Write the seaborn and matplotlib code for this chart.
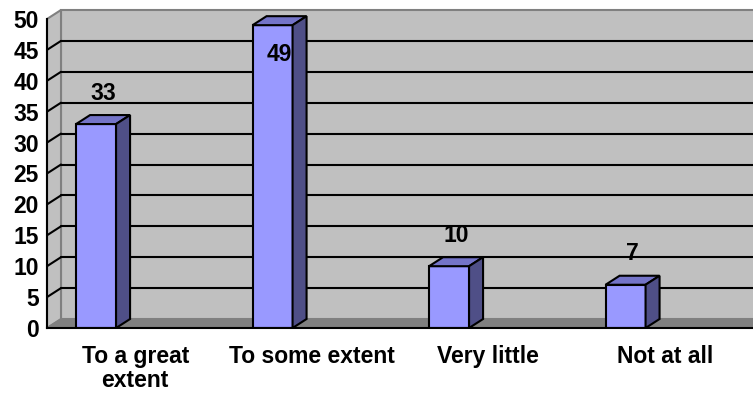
import matplotlib
matplotlib.use("Agg")
import matplotlib.pyplot as plt
from matplotlib.patches import Polygon
import seaborn as sns
import pandas as pd

categories = ["To a great\nextent", "To some extent", "Very little", "Not at all"]
values = [33, 49, 10, 7]
y_ticks = list(range(0, 55, 5))

sns.set_style("white")
plt.rcParams["font.family"] = ["Liberation Sans", "DejaVu Sans"]
plt.rcParams["font.weight"] = "bold"
plt.rcParams["text.color"] = "black"
plt.rcParams["xtick.color"] = "black"
plt.rcParams["ytick.color"] = "black"
plt.rcParams["axes.edgecolor"] = "black"

FS = 16.5

W, H = 753, 396
fig = plt.figure(figsize=(W / 100, H / 100), dpi=100)
# axes spans front-left corner (47, 328) to top-right (753, 10) in pixels
ax = fig.add_axes([47 / W, (H - 328) / H, (W - 47) / W, (328 - 10) / H])

px_x = 176.5  # pixels per category
px_y = 6.18   # pixels per value unit
x0, x1 = -0.278, 3.722
dx, dy = 14 / px_x, 9 / px_y   # 3D depth offset
ymax = 50

df = pd.DataFrame({"cat": categories, "val": values})
sns.barplot(data=df, x="cat", y="val", color="#9999ff", saturation=1,
            width=40 / px_x, edgecolor="black", linewidth=1.5,
            errorbar=None, ax=ax, zorder=5)
bars = list(ax.patches)

# walls and floor
back = Polygon([(x0 + dx, dy), (x0 + dx, ymax + dy), (x1 + 0.01, ymax + dy), (x1 + 0.01, dy)],
               closed=True, facecolor="#c0c0c0", edgecolor="#808080", lw=1.5, zorder=1, clip_on=False)
left = Polygon([(x0, 0), (x0, ymax), (x0 + dx, ymax + dy), (x0 + dx, dy)],
               closed=True, facecolor="#c0c0c0", edgecolor="#808080", lw=1.5, zorder=1, clip_on=False)
floor = Polygon([(x0, 0), (x0 + dx, dy), (x1 + 0.01, dy), (x1 + 0.01, 0)],
                closed=True, facecolor="#808080", edgecolor="#808080", lw=1, zorder=1, clip_on=False)
for p in (back, left, floor):
    ax.add_patch(p)

# gridlines on back wall plus diagonals on side wall
for v in y_ticks[1:-1]:
    ax.plot([x0 + dx, x1 + 0.01], [v + dy, v + dy], color="black", lw=1.5, zorder=2, clip_on=False)
    ax.plot([x0, x0 + dx], [v, v + dy], color="black", lw=1.5, zorder=2, clip_on=False)

# 3D faces of the bars
for bar in bars:
    x, w, h = bar.get_x(), bar.get_width(), bar.get_height()
    top = Polygon([(x, h), (x + dx, h + dy), (x + w + dx, h + dy), (x + w, h)],
                  closed=True, facecolor="#7474c8", edgecolor="black", lw=1.5, zorder=5)
    side = Polygon([(x + w, 0), (x + w, h), (x + w + dx, h + dy), (x + w + dx, dy)],
                   closed=True, facecolor="#4f4f87", edgecolor="black", lw=1.5, zorder=5)
    ax.add_patch(top)
    ax.add_patch(side)
    ax.text(x + w / 2 + dx / 2, min(h + 5, 44.3), f"{int(h)}", ha="center", va="center",
            fontsize=FS, fontweight="bold", color="black", zorder=6)

ax.set_xlim(x0, x1)
ax.set_ylim(0, 318 / px_y)

ax.set_yticks(y_ticks)
ax.set_yticklabels([str(t) for t in y_ticks], fontsize=FS, fontweight="bold")
ax.set_xticks([x0 + i for i in range(5)])
ax.set_xticklabels([])
ax.set_xticks([x0 + 0.5 + i for i in range(4)], categories, minor=True)
ax.tick_params(axis="x", which="minor", length=0, pad=12, labelsize=FS)
ax.tick_params(axis="x", which="major", length=5, width=1.5, direction="out")
ax.tick_params(axis="y", length=5, width=1.5, direction="out", pad=1)
for lab in ax.get_xticklabels(minor=True):
    lab.set_fontweight("bold")
    lab.set_linespacing(1.1)

for s in ("top", "right"):
    ax.spines[s].set_visible(False)
ax.spines["left"].set_bounds(0, ymax)
for s in ("left", "bottom"):
    ax.spines[s].set_linewidth(1.5)
    ax.spines[s].set_color("black")
    ax.spines[s].set_zorder(7)
ax.set_xlabel("")
ax.set_ylabel("")
ax.patch.set_alpha(0)

fig.savefig("out.png", dpi=100)
